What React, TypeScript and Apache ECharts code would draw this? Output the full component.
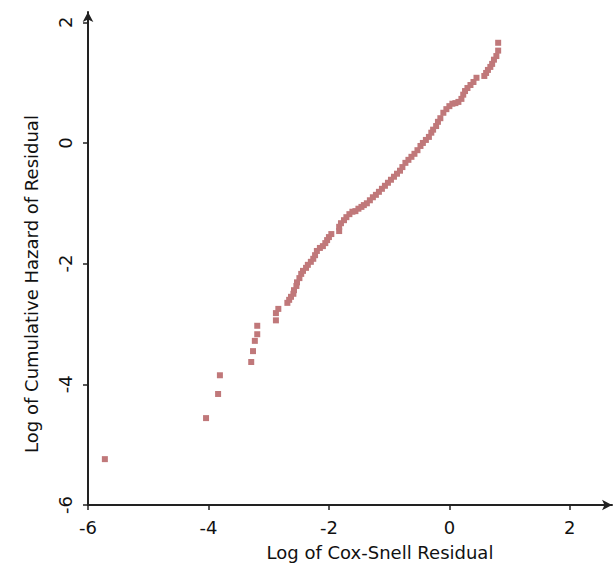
import React, { useEffect, useRef } from "react";
import * as echarts from "echarts";

const xTickLabels = ["-6", "-4", "-2", "0", "2"];
const yTickLabels = ["-6", "-4", "-2", "0", "2"];

const logCoxSnell = [
  -5.72, -4.04, -3.84, -3.81, -3.29, -3.26, -3.23, -3.19, -3.19, -2.88, -2.88, -2.84, -2.69,
  -2.66, -2.63, -2.59, -2.58, -2.54, -2.53, -2.49, -2.46, -2.43, -2.38, -2.35, -2.3, -2.26,
  -2.23, -2.2, -2.15, -2.1, -2.06, -2.03, -2.0, -1.96, -1.83, -1.83, -1.8, -1.75, -1.71,
  -1.66, -1.61, -1.56, -1.51, -1.46, -1.42, -1.37, -1.32, -1.27, -1.22, -1.17, -1.12, -1.07,
  -1.02, -0.97, -0.92, -0.87, -0.82, -0.78, -0.73, -0.68, -0.63, -0.58, -0.53, -0.48, -0.44,
  -0.39, -0.34, -0.3, -0.27, -0.22, -0.19, -0.15, -0.1, -0.05, 0.0, 0.05, 0.1, 0.15, 0.2,
  0.23, 0.26, 0.3, 0.35, 0.4, 0.45, 0.58, 0.61, 0.64, 0.68, 0.71, 0.74, 0.78, 0.81, 0.81,
];
const logCumHazard = [
  -5.24, -4.56, -4.16, -3.85, -3.63, -3.45, -3.28, -3.17, -3.03, -2.94, -2.82, -2.75, -2.65,
  -2.6, -2.55, -2.5, -2.44, -2.37, -2.31, -2.24, -2.17, -2.12, -2.07, -2.02, -1.97, -1.92,
  -1.86, -1.79, -1.74, -1.71, -1.66, -1.61, -1.56, -1.51, -1.46, -1.39, -1.33, -1.28, -1.23,
  -1.18, -1.14, -1.13, -1.09, -1.06, -1.03, -1.0, -0.95, -0.9, -0.86, -0.81, -0.76, -0.71,
  -0.66, -0.61, -0.56, -0.51, -0.46, -0.4, -0.33, -0.28, -0.23, -0.18, -0.12, -0.05, 0.0,
  0.05, 0.1, 0.17, 0.22, 0.28, 0.35, 0.41, 0.5, 0.56, 0.61, 0.65, 0.66, 0.68, 0.73,
  0.8, 0.86, 0.91, 0.96, 1.01, 1.08, 1.11, 1.16, 1.21, 1.26, 1.31, 1.38, 1.44, 1.53, 1.66,
];

const xName = "Log of Cox-Snell Residual";
const yName = "Log of Cumulative Hazard of Residual";

const FONT = "DejaVu Sans";
const TEXT = "#111111";
const AXIS = "#222222";

export default function App() {
  const ref = useRef<HTMLDivElement>(null);
  useEffect(() => {
    if (!ref.current) return;
    const chart = echarts.init(ref.current, null, { renderer: "svg" });
    const data = logCoxSnell.map((x, i) => [x, logCumHazard[i]]);
    const fmt = (labels: string[]) => (v: number) => {
      const s = String(Math.round(v));
      return labels.includes(s) && Math.abs(v - Math.round(v)) < 1e-9 ? s : "";
    };
    chart.setOption({
      animation: false,
      backgroundColor: "#ffffff",
      grid: { left: 88, right: 3, top: 12, bottom: 69, containLabel: false },
      xAxis: {
        type: "value",
        min: -6,
        max: 2.7,
        interval: 2,
        splitLine: { show: false },
        axisLine: {
          show: true,
          onZero: false,
          lineStyle: { color: AXIS, width: 2 },
          symbol: ["none", "arrow"],
          symbolSize: [8, 10],
        },
        axisTick: { show: true, inside: false, length: 5, lineStyle: { color: AXIS, width: 1.5 } },
        axisLabel: {
          showMaxLabel: false,
          margin: 13,
          color: TEXT,
          fontFamily: FONT,
          fontSize: 18,
          formatter: fmt(xTickLabels),
        },
      },
      yAxis: {
        type: "value",
        min: -6,
        max: 2.17,
        interval: 2,
        splitLine: { show: false },
        axisLine: {
          show: true,
          onZero: false,
          lineStyle: { color: AXIS, width: 2 },
          symbol: ["none", "arrow"],
          symbolSize: [8, 10],
        },
        axisTick: { show: true, inside: false, length: 5, lineStyle: { color: AXIS, width: 1.5 } },
        axisLabel: {
          showMaxLabel: false,
          rotate: 90,
          margin: 14,
          color: TEXT,
          fontFamily: FONT,
          fontSize: 18,
          formatter: fmt(yTickLabels),
        },
      },
      graphic: [
        {
          type: "text",
          x: 380,
          y: 552,
          style: {
            text: xName,
            fill: TEXT,
            font: `18px "${FONT}"`,
            align: "center",
            verticalAlign: "middle",
          },
        },
        {
          type: "text",
          x: 31,
          y: 284,
          rotation: Math.PI / 2,
          style: {
            text: yName,
            fill: TEXT,
            font: `18px "${FONT}"`,
            align: "center",
            verticalAlign: "middle",
          },
        },
      ],
      series: [
        {
          type: "scatter",
          data,
          symbol: "rect",
          symbolSize: 6,
          itemStyle: { color: "#c0787a", opacity: 1 },
        },
      ],
    });
    return () => chart.dispose();
  }, []);
  return (
    <div
      ref={ref}
      style={{ position: "fixed", left: 0, top: 0, width: 615, height: 574 }}
    />
  );
}
